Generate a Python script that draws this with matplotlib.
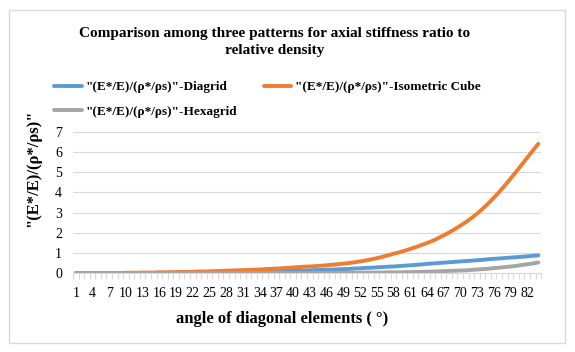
import numpy as np
import matplotlib.pyplot as plt
from matplotlib.patches import Rectangle

# angle of diagonal elements, 1..84 degrees
angles = list(range(1, 85))

diagrid = [0.00, 0.00, 0.00, 0.00, 0.00, 0.00, 0.00, 0.00, 0.01, 0.01,
           0.01, 0.01, 0.01, 0.01, 0.01, 0.02, 0.02, 0.02, 0.02, 0.02,
           0.03, 0.03, 0.03, 0.03, 0.04, 0.04, 0.04, 0.05, 0.05, 0.05,
           0.06, 0.06, 0.07, 0.07, 0.08, 0.08, 0.09, 0.10, 0.10, 0.11,
           0.12, 0.13, 0.14, 0.15, 0.16, 0.17, 0.18, 0.19, 0.20, 0.21,
           0.23, 0.24, 0.26, 0.27, 0.29, 0.30, 0.32, 0.33, 0.35, 0.37,
           0.39, 0.41, 0.43, 0.46, 0.48, 0.50, 0.52, 0.54, 0.56, 0.58,
           0.60, 0.62, 0.64, 0.66, 0.69, 0.71, 0.73, 0.75, 0.77, 0.79,
           0.81, 0.83, 0.86, 0.88]

iso_cube = [0.00, 0.00, 0.00, 0.00, 0.00, 0.01, 0.01, 0.01, 0.01, 0.02,
            0.02, 0.02, 0.03, 0.03, 0.03, 0.04, 0.04, 0.05, 0.05, 0.06,
            0.06, 0.07, 0.08, 0.08, 0.09, 0.10, 0.11, 0.12, 0.13, 0.14,
            0.15, 0.16, 0.17, 0.18, 0.20, 0.21, 0.23, 0.24, 0.26, 0.28,
            0.30, 0.32, 0.33, 0.35, 0.37, 0.39, 0.42, 0.44, 0.47, 0.50,
            0.54, 0.58, 0.63, 0.68, 0.74, 0.81, 0.88, 0.96, 1.03, 1.11,
            1.20, 1.29, 1.39, 1.49, 1.60, 1.73, 1.87, 2.02, 2.18, 2.35,
            2.53, 2.73, 2.95, 3.19, 3.45, 3.73, 4.03, 4.35, 4.68, 5.02,
            5.37, 5.72, 6.07, 6.41]

hexagrid = [0.00, 0.00, 0.00, 0.00, 0.00, 0.00, 0.00, 0.00, 0.00, 0.00,
            0.00, 0.00, 0.00, 0.00, 0.00, 0.00, 0.00, 0.00, 0.00, 0.00,
            0.00, 0.00, 0.00, 0.00, 0.00, 0.00, 0.00, 0.00, 0.00, 0.00,
            0.00, 0.00, 0.00, 0.00, 0.01, 0.01, 0.01, 0.01, 0.01, 0.01,
            0.01, 0.01, 0.01, 0.01, 0.01, 0.01, 0.02, 0.02, 0.02, 0.02,
            0.02, 0.02, 0.03, 0.03, 0.03, 0.03, 0.04, 0.04, 0.04, 0.05,
            0.05, 0.06, 0.06, 0.07, 0.08, 0.09, 0.10, 0.11, 0.12, 0.13,
            0.14, 0.16, 0.18, 0.20, 0.22, 0.25, 0.27, 0.30, 0.33, 0.36,
            0.40, 0.44, 0.48, 0.53]

labels = ['"(E*/E)/(ρ*/ρs)"-Diagrid',
          '"(E*/E)/(ρ*/ρs)"-Isometric Cube',
          '"(E*/E)/(ρ*/ρs)"-Hexagrid']

plt.rcParams['font.family'] = ['Liberation Serif', 'DejaVu Serif']

fig = plt.figure(figsize=(5.75, 3.52), dpi=100)
ax = fig.add_axes([0.127, 0.224, 0.814, 0.401])

p1, = ax.plot(angles, diagrid, color='#5B9BD5', lw=2.8, solid_capstyle='round')
p2, = ax.plot(angles, iso_cube, color='#ED7D31', lw=2.8, solid_capstyle='round')
p3, = ax.plot(angles, hexagrid, color='#A5A5A5', lw=2.8, solid_capstyle='round')

ax.set_xlim(0.5, 84.5)
ax.set_ylim(0, 7)
ax.set_yticks(range(0, 8))
ax.set_xticks(angles[::3])
ax.set_xticks(np.arange(0.5, 85, 1), minor=True)
ax.tick_params(axis='x', which='major', length=0, labelsize=10, pad=10)
ax.tick_params(axis='x', which='minor', length=4, color='#d9d9d9', width=0.8)
ax.tick_params(axis='y', length=0, labelsize=10, pad=8)
ax.grid(axis='y', color='#d9d9d9', lw=0.8)
ax.set_axisbelow(True)
for s in ['top', 'right', 'left']:
    ax.spines[s].set_visible(False)
ax.spines['bottom'].set_color('#d9d9d9')

fig.text(0.477, 0.88, 'Comparison among three patterns for axial stiffness ratio to\nrelative density',
         ha='center', va='center', fontsize=11, fontweight='bold', linespacing=1.45)

fig.legend((p1, p3, p2), (labels[0], labels[2], labels[1]), ncol=2, frameon=False,
           loc='upper left', bbox_to_anchor=(0.094, 0.770), prop={'size': 9.5, 'weight': 'bold'},
           handlelength=2.1, columnspacing=2.0, labelspacing=0.95, handletextpad=0.3,
           borderaxespad=0, borderpad=0)

fig.text(0.057, 0.523, '"(E*/E)/(ρ*/ρs)"', rotation=90, ha='center', va='center',
         fontsize=12, fontweight='bold')
fig.text(0.49, 0.094, 'angle of diagonal elements ( °)', ha='center', va='center',
         fontsize=12, fontweight='bold')

fig.patches.append(Rectangle((9 / 575, 1 - 343 / 352), 556 / 575, 333 / 352,
                             transform=fig.transFigure, fill=False,
                             edgecolor='#d9d9d9', lw=1))

fig.savefig('out.png', dpi=100)
